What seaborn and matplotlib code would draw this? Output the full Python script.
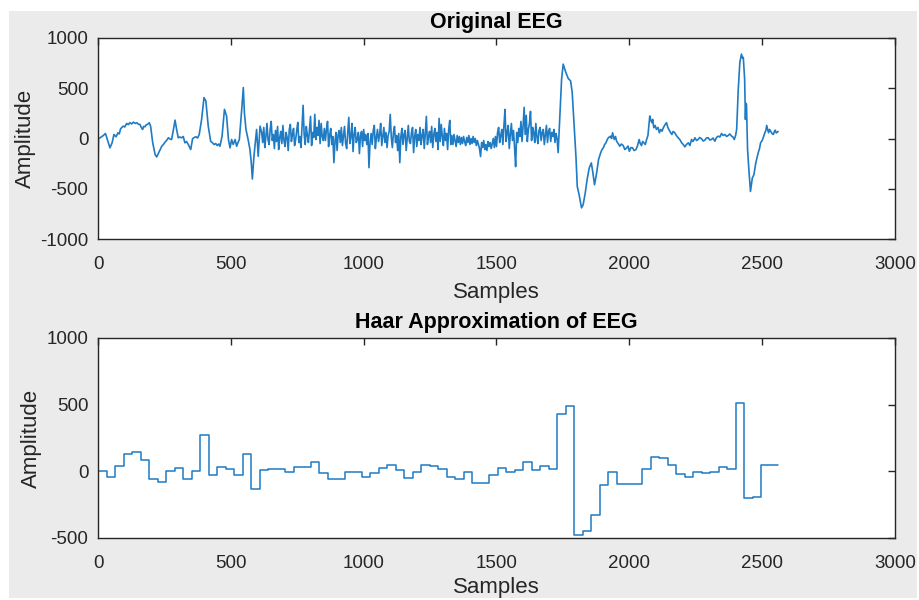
import matplotlib
matplotlib.use('Agg')
import matplotlib.pyplot as plt
from matplotlib.patches import Rectangle
import numpy as np
import seaborn as sns

# original EEG: slow part at the start
start_samples = [0, 2, 8, 20, 28, 35, 45, 53, 60, 68, 75, 80, 85, 90, 95, 101, 108, 114, 120, 127,
                 133, 140, 146, 152, 158, 163, 168, 172, 177, 181, 186, 193, 198, 206, 215, 221, 231,
                 236, 240, 246, 252, 258, 265, 271, 277, 284, 290, 296, 302, 308, 315, 321, 327, 333,
                 340, 349, 356, 362, 369, 375, 381, 390, 399, 406, 415, 424, 430, 437, 443, 449, 454,
                 459, 467, 476, 484, 491, 497, 503, 509, 516, 522, 527, 532, 541, 547, 551, 557, 565,
                 572, 577, 581, 587, 592, 597, 603, 610]
start_amp = [-370, 0, 7, 30, 50, -10, -93, -43, 40, 17, 57, 45, 97, 110, 123, 115, 150, 138, 157, 145,
             163, 150, 157, 142, 140, 110, 90, 120, 117, 135, 140, 157, 123, -43, -160, -183, -127,
             -100, -77, -60, -37, -20, 7, -5, -10, 90, 183, 90, 7, 15, 7, 20, -43, -30,
             -60, -110, -2, 10, 17, 5, 40, 190, 407, 373, 123, -27, -40, -60, -50, -70, -55,
             -77, 23, 290, 223, -10, -93, -10, -60, -10, -77, -40, -10, 290, 507, 257, 90, -10,
             -110, -243, -403, -177, -43, 90, -177, 123]

# noisy middle part, one value every 4 samples from sample 616
noise_start = 616
noise_step = 4
noise_amp = [60, -40, 110, -90, 20, 150, -10, -60, 90, 170, -20, 40, -100, 80, -30, 120, -110, 10, 70, -50,
             130, -20, -80, 60, 10, -120, 90, 140, -30, 40, 100, -70, -10, 80, 160, -40, 20, -90, 110, 330,
             40, -60, 120, 30, -40, 90, 220, -70, 60, 10, 240, -10, 110, 30, 180, -50, 150, 20, -20, 100,
             -20, 90, 170, -80, 30, 100, -60, 20, -240, -30, 60, -120, 40, 80, -40, 110, -70, 30, 120, -50,
             -100, 60, 210, -50, 20, 150, -130, 40, 110, -40, -10, 60, -150, 30, 70, -80, 90, -20, 40, -60,
             50, -290, -40, 50, -60, 80, 130, -100, 10, 90, -30, 40, 150, -70, 20, 110, -40, 60, -90, 30,
             70, 240, 10, -90, 60, 120, -40, 30, -120, 50, -240, 20, 100, -60, 40, 80, -120, 10, 130, -30,
             -50, 60, 110, -140, 20, 90, -80, 40, -20, 110, -60, 30, 90, -100, 50, 220, -60, 20, 70, -40,
             120, -90, 40, 100, -30, 60, -110, 200, -30, 140, 20, -70, 100, -20, 50, -110, 90, 180, -60, 30,
             -60, 40, -20, -80, 30, -40, 20, -60, 10, -50, 20, -30, -70, 10, -40, 30, -60, 0, -50, 20,
             -40, 0, -70, -20, -60, -100, -180, -40, -90, -20, -110, -60, -120, -30, -80, -40, -100, -50, 0, -90,
             20, -80, 60, 110, -40, 30, 90, -60, 130, 290, -30, 60, 130, -100, 40, 150, -20, 80, -90, -280,
             60, -40, 100, 20, 170, -30, 120, 310, 40, 230, -30, 90, 150, 270, -20, 110, 60, -40, 150, 20,
             -50, 80, 110, -20, 60, 90, -60, 40, 130, -40, 70, 100, -30, 60, 20, 90, -40, 50, 0, -140,
             80]

# slow part at the end
end_samples = [1745, 1751, 1756, 1761, 1770, 1779, 1785, 1791, 1799, 1804, 1811, 1820, 1826, 1834,
               1841, 1849, 1857, 1862, 1869, 1877, 1884, 1892, 1897, 1902, 1907, 1912, 1917, 1921,
               1929, 1933, 1937, 1943, 1948, 1952, 1958, 1964, 1970, 1977, 1983, 1990, 1995, 2000,
               2006, 2012, 2018, 2025, 2031, 2037, 2041, 2046, 2050, 2055, 2060, 2065, 2070, 2077,
               2081, 2085, 2088, 2092, 2097, 2102, 2108, 2113, 2118, 2123, 2127, 2130, 2135, 2140,
               2145, 2150, 2155, 2160, 2165, 2171, 2177, 2184, 2190, 2197, 2203, 2209, 2215, 2222,
               2228, 2234, 2240, 2247, 2253, 2259, 2265, 2272, 2278, 2284, 2290, 2297, 2303, 2309,
               2315, 2322, 2328, 2335, 2341, 2347, 2353, 2360, 2366, 2372, 2378, 2385, 2390, 2395,
               2400, 2404, 2410, 2416, 2422, 2426, 2429, 2434, 2437, 2439, 2441, 2445, 2450, 2456,
               2460, 2463, 2469, 2476, 2480, 2485, 2490, 2494, 2500, 2504, 2510, 2514, 2517, 2521,
               2524, 2528, 2532, 2537, 2542, 2546, 2549, 2553, 2557, 2560]
end_amp = [590, 740, 700, 657, 597, 573, 457, 190, -177, -477, -560, -690, -660, -543,
           -410, -293, -243, -327, -460, -343, -210, -143, -110, -93, -60, -43, -10, 7,
           23, 0, 57, -10, 20, -27, -50, -77, -55, -70, -110, -93, -75, -127,
           -90, -93, -120, -110, -70, -10, -50, -70, -30, -43, -60, -10, 30, 224,
           180, 157, 190, 107, 130, 90, 110, 57, 90, 73, 100, 117, 140, 157,
           110, 83, 60, 40, 70, 57, 30, 7, -10, -43, -60, -83, -60, -43,
           -70, -10, -30, 7, -20, -10, 10, -3, -25, -17, 5, 7, -15, -10,
           5, -27, 10, 23, 15, 50, 30, 40, 20, 30, 45, 23, 15, -10,
           30, 90, 490, 757, 840, 800, 807, 590, 190, 350, 340, -110, -310, -527,
           -450, -393, -360, -243, -200, -143, -100, -43, -20, 7, 57, 80, 130, 90,
           57, 90, 73, 50, 40, 70, 83, 55, 63, 70]

# Haar approximation levels, one per block of 32 samples
haar_block = 32
haar_levels = [0, -45, 40, 130, 142, 85, -57, -82, 5, 25,
               -60, 5, 272, -30, 35, 15, -28, 130, -135, 10,
               17, 17, -3, 30, 30, 70, -15, -57, -57, -3,
               -3, -40, -15, 25, 50, 10, -48, -3, 47, 40,
               15, -45, -60, -8, -90, -90, -28, 22, -5, 7,
               70, 10, 37, 15, 427, 490, -480, -448, -328, -105,
               -5, -95, -95, -95, 15, 105, 100, 47, -23, -45,
               -5, -15, -5, 35, 15, 510, -203, -195, 45, 50]

x_ticks = [0, 500, 1000, 1500, 2000, 2500, 3000]

noise_samples = noise_start + noise_step * np.arange(len(noise_amp))
eeg_x = np.concatenate([start_samples, noise_samples, end_samples])
eeg_y = np.concatenate([start_amp, noise_amp, end_amp])

haar_x = haar_block * np.arange(len(haar_levels) + 1)
haar_y = haar_levels + [haar_levels[-1]]

sns.set_theme(style='white')
plt.rcParams['font.family'] = ['Liberation Sans', 'DejaVu Sans']
plt.rcParams['axes.unicode_minus'] = False

line_color = '#1f7bc3'
ink = '#262626'

fig = plt.figure(figsize=(9.19, 6.0), dpi=100)
fig.patch.set_facecolor('white')
# grey MATLAB window area behind the axes
bg = Rectangle((9 / 919, 2 / 600), 908 / 919, 587 / 600, transform=fig.transFigure,
               facecolor='#ebebeb', edgecolor='none', zorder=-10)
fig.add_artist(bg)

ax1 = fig.add_axes([98 / 919, 1 - 239 / 600, 797 / 919, 201 / 600])
ax2 = fig.add_axes([98 / 919, 1 - 538 / 600, 797 / 919, 200 / 600])

sns.lineplot(x=eeg_x, y=eeg_y, ax=ax1, color=line_color, linewidth=1.2,
             estimator=None, sort=False)
sns.lineplot(x=haar_x, y=haar_y, ax=ax2, color=line_color, linewidth=1.1,
             estimator=None, sort=False, drawstyle='steps-post')

ax1.set_ylim(-1000, 1000)
ax1.set_yticks([-1000, -500, 0, 500, 1000])
ax2.set_ylim(-500, 1000)
ax2.set_yticks([-500, 0, 500, 1000])

for ax, title, xpad in [(ax1, 'Original EEG', 7), (ax2, 'Haar Approximation of EEG', 4)]:
    ax.set_facecolor('white')
    ax.set_xlim(0, 3000)
    ax.set_xticks(x_ticks)
    ax.set_title(title, fontsize=15.5, fontweight='bold', color='black', pad=7)
    ax.set_xlabel('Samples', fontsize=16, color=ink, labelpad=xpad)
    ax.set_ylabel('Amplitude', fontsize=16, color=ink, labelpad=3)
    ax.tick_params(direction='in', length=5, width=1, color=ink, labelcolor=ink,
                   labelsize=13.5, top=True, right=True, pad=7)
    ax.tick_params(axis='x', pad=12)
    for s in ax.spines.values():
        s.set_visible(True)
        s.set_color(ink)
        s.set_linewidth(1.0)

fig.savefig('out.png', dpi=100)
